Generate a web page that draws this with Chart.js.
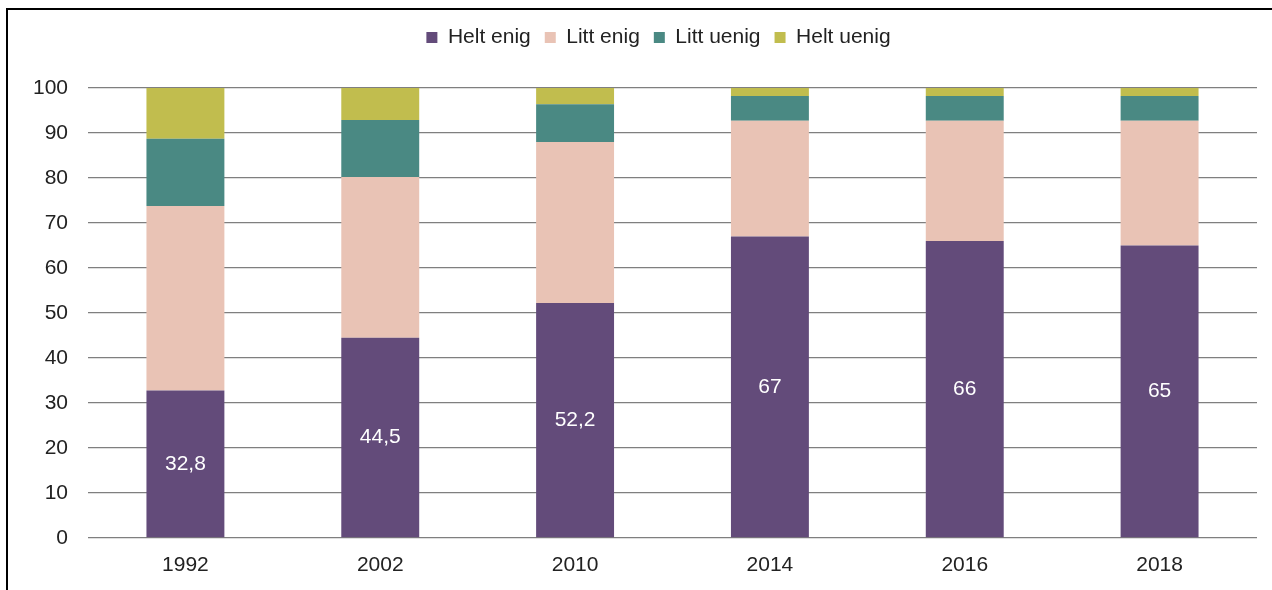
<!DOCTYPE html>
<html>
<head>
<meta charset="utf-8">
<script src="https://cdn.jsdelivr.net/npm/chart.js@4.4.0/dist/chart.umd.min.js"></script>
<style>
  html, body { margin: 0; padding: 0; background: #fff; overflow: hidden; }
  #wrap { position: relative; width: 1272px; height: 590px; }
  #frame { position: absolute; left: 6px; top: 8px; width: 1300px; height: 600px;
           border-top: 2px solid #000; border-left: 2px solid #000; pointer-events: none; }
</style>
</head>
<body>
<div id="wrap">
  <canvas id="myChart" width="1272" height="590"></canvas>
  <div id="frame"></div>
</div>
<script>
// data
const years = ['1992', '2002', '2010', '2014', '2016', '2018'];
const heltEnig = [32.8, 44.5, 52.2, 67, 66, 65];
const littEnig = [41.0, 35.7, 35.8, 25.7, 26.7, 27.7];
const littUenig = [14.9, 12.7, 8.4, 5.5, 5.5, 5.5];
const heltUenig = [11.3, 7.1, 3.6, 1.8, 1.8, 1.8];
const yTicks = [0, 10, 20, 30, 40, 50, 60, 70, 80, 90, 100];

const FONT = 'Liberation Sans, Arial, sans-serif';

// labels in the purple bars
const verdiEtiketter = {
    id: 'verdiEtiketter',
    afterDatasetsDraw(chart) {
        const ctx = chart.ctx;
        const meta = chart.getDatasetMeta(0);
        ctx.save();
        ctx.fillStyle = '#ffffff';
        ctx.font = '21px ' + FONT;
        ctx.textAlign = 'center';
        ctx.textBaseline = 'middle';
        meta.data.forEach((bar, i) => {
            const txt = heltEnig[i].toString().replace('.', ',');
            ctx.fillText(txt, bar.x, (bar.y + bar.base) / 2);
        });
        ctx.restore();
    }
};

// extra space under the legend, and legend moved a bit right
const legendeLuft = {
    id: 'legendeLuft',
    beforeInit(chart) {
        const fit = chart.legend.fit;
        chart.legend.fit = function() {
            fit.bind(chart.legend)();
            this.height += 30;
        };
        const draw = chart.legend.draw;
        chart.legend.draw = function() {
            const c = chart.ctx;
            c.save();
            c.translate(30, 0);
            draw.bind(chart.legend)();
            c.restore();
        };
    }
};

const ctx = document.getElementById('myChart').getContext('2d');
const myChart = new Chart(ctx, {
    type: 'bar',
    data: {
        labels: years,
        datasets: [
            { label: 'Helt enig', data: heltEnig, backgroundColor: '#634b7a' },
            { label: 'Litt enig', data: littEnig, backgroundColor: '#e9c3b5' },
            { label: 'Litt uenig', data: littUenig, backgroundColor: '#4a8983' },
            { label: 'Helt uenig', data: heltUenig, backgroundColor: '#c1bd4e' }
        ]
    },
    options: {
        responsive: false,
        animation: false,
        barPercentage: 0.4,
        categoryPercentage: 1,
        layout: { padding: { left: 0, right: 15, top: 13, bottom: 12 } },
        plugins: {
            tooltip: { enabled: false },
            legend: {
                position: 'top',
                labels: {
                    boxWidth: 11,
                    boxHeight: 11,
                    padding: 14,
                    color: '#222',
                    font: { family: FONT, size: 21 }
                }
            }
        },
        scales: {
            x: {
                stacked: true,
                grid: { display: false },
                border: { display: false },
                ticks: { color: '#222', padding: 7, font: { family: FONT, size: 21 } },
                afterFit: (s) => { s.height = 40; }
            },
            y: {
                stacked: true,
                min: 0,
                max: 100,
                afterBuildTicks: (s) => { s.ticks = yTicks.map(v => ({ value: v })); },
                grid: { color: '#7f7f7f', lineWidth: 1.3, drawTicks: false },
                border: { display: false },
                ticks: { color: '#222', padding: 20, font: { family: FONT, size: 21 } },
                afterFit: (s) => { s.width = 88; }
            }
        }
    },
    plugins: [verdiEtiketter, legendeLuft]
});
</script>
</body>
</html>
